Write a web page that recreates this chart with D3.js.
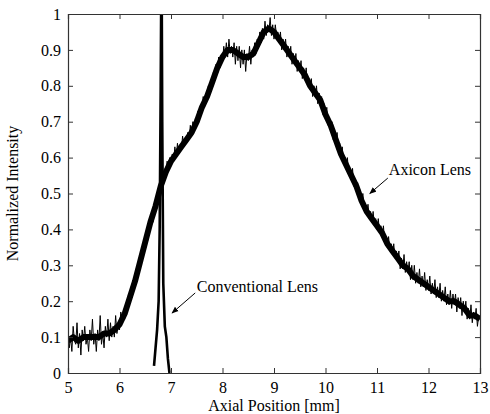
<!DOCTYPE html>
<html>
<head>
<meta charset="utf-8">
<script src="https://cdn.jsdelivr.net/npm/d3@7"></script>
<style>
  body { margin: 0; background: #fff; }
  text { font-family: "Liberation Serif", "Times New Roman", serif; fill: #000; }
</style>
</head>
<body>
<div id="chart"></div>
<script>
// axicon trace starts at 5 mm, one reading every 0.025 mm
var traceStart = 5, traceStep = 0.025;
// noisy axicon trace (4 readings per 0.1 mm)
var axiconTrace = [
  .12,.07,.10,.06, .13,.09,.08,.14, .07,.11,.05,.12, .09,.13,.08,.10, .06,.12,.09,.15,
  .08,.11,.06,.12, .09,.16,.08,.11, .07,.13,.10,.15, .09,.14,.10,.13, .10,.16,.11,.14,
  .12,.17,.14,.16, .15,.19,.17,.22, .20,.24,.21,.26, .24,.29,.27,.31, .30,.34,.32,.37,
  .35,.40,.37,.42, .41,.44,.42,.47, .45,.48,.47,.50, .51,.55,.53,.56, .55,.59,.56,.60,
  .58,.61,.59,.63, .60,.64,.61,.63, .62,.66,.63,.64, .64,.67,.65,.69, .66,.70,.68,.71,
  .69,.73,.71,.74, .73,.77,.74,.77, .76,.80,.78,.81, .80,.84,.82,.86, .84,.88,.85,.88,
  .87,.91,.88,.92, .88,.93,.89,.91, .88,.92,.86,.91, .87,.91,.85,.90, .86,.90,.84,.89,
  .87,.91,.86,.90, .88,.92,.89,.93, .91,.95,.92,.96, .93,.98,.94,.97, .95,.99,.94,.97,
  .93,.97,.94,.95, .92,.95,.90,.93, .90,.93,.88,.91, .88,.91,.86,.89, .86,.89,.84,.87,
  .84,.87,.82,.85, .82,.85,.80,.82, .79,.82,.77,.80, .77,.80,.75,.78, .75,.77,.72,.75,
  .71,.74,.69,.71, .68,.70,.65,.68, .64,.67,.62,.64, .60,.63,.59,.60, .57,.60,.56,.57,
  .54,.57,.52,.54, .51,.53,.49,.51, .47,.50,.46,.47, .44,.47,.43,.45, .42,.45,.41,.43,
  .40,.43,.39,.41, .38,.41,.36,.38, .35,.38,.34,.36, .33,.36,.32,.34, .31,.34,.29,.32,
  .29,.33,.28,.31, .28,.31,.26,.30, .26,.30,.25,.28, .25,.29,.24,.27, .24,.28,.23,.26,
  .23,.27,.22,.25, .22,.26,.21,.24, .21,.25,.20,.23, .20,.24,.19,.22, .19,.23,.18,.22,
  .19,.22,.17,.21, .18,.21,.16,.20, .17,.20,.15,.18, .15,.19,.14,.17, .15,.18,.13,.16,
  .15
];
// mean level of the axicon curve, one value every 0.1 mm
var meanStep = 0.1;
var axiconMean = [
  0.09,0.10,0.09,0.10,0.10,0.10,0.10,0.11,0.11,0.12,
  0.135,0.165,0.21,0.255,0.31,0.365,0.42,0.465,0.52,0.56,
  0.59,0.61,0.63,0.65,0.67,0.70,0.74,0.77,0.81,0.85,
  0.88,0.90,0.90,0.89,0.88,0.88,0.89,0.92,0.95,0.96,
  0.95,0.93,0.91,0.89,0.87,0.85,0.83,0.80,0.78,0.76,
  0.72,0.69,0.65,0.61,0.58,0.55,0.52,0.48,0.45,0.43,
  0.41,0.39,0.36,0.34,0.32,0.30,0.29,0.27,0.26,0.25,
  0.24,0.23,0.22,0.21,0.20,0.20,0.19,0.18,0.16,0.16,
  0.15
];
// conventional lens focus
var convX = [6.67,6.70,6.73,6.76,6.78,6.80,6.81,6.82,6.83,6.85,6.88,6.91,6.94,6.97];
var convY = [0.02,0.07,0.12,0.20,0.40,0.80,1.05,1.05,0.70,0.25,0.13,0.10,0.04,0.00];

var xTicks = [5,6,7,8,9,10,11,12,13];
var yTicks = [0,0.1,0.2,0.3,0.4,0.5,0.6,0.7,0.8,0.9,1];

var margin = {top: 14, right: 10, bottom: 41, left: 68},
  width = 490 - margin.left - margin.right,
  height = 414 - margin.top - margin.bottom;

var svg = d3.select("#chart")
.append("svg")
  .attr("width", 490)
  .attr("height", 414)
.append("g")
  .attr("transform", "translate(" + margin.left + "," + margin.top + ")");

var x = d3.scaleLinear().domain([5, 13]).range([0, width]);
var y = d3.scaleLinear().domain([0, 1]).range([height, 0]);

svg.append("clipPath").attr("id", "plotClip")
  .append("rect").attr("width", width).attr("height", height);

var plot = svg.append("g").attr("clip-path", "url(#plotClip)");

var line = d3.line().x(function(d) { return x(d[0]); }).y(function(d) { return y(d[1]); });

// thick core of the axicon curve
plot.append("path")
  .datum(axiconMean.map(function(v, i) { return [traceStart + i * meanStep, v]; }))
  .attr("d", line)
  .style("fill", "none").style("stroke", "#000").style("stroke-width", 6)
  .style("stroke-linejoin", "round");

// the noise around it
plot.append("path")
  .datum(axiconTrace.map(function(v, i) { return [traceStart + i * traceStep, v]; }))
  .attr("d", line)
  .style("fill", "none").style("stroke", "#000").style("stroke-width", 1);

// conventional lens
plot.append("path")
  .datum(convX.map(function(v, i) { return [v, convY[i]]; }))
  .attr("d", line)
  .style("fill", "none").style("stroke", "#000").style("stroke-width", 2.6);

// axes: ticks point inward, box on all sides
var tickLen = 5;
svg.append("g")
  .attr("transform", "translate(0," + height + ")")
  .call(d3.axisBottom(x).tickValues(xTicks).tickSize(-tickLen).tickPadding(9).tickFormat(d3.format("d")))
  .call(function(g) { g.selectAll("text").style("font-size", "16px"); });
svg.append("g")
  .call(d3.axisTop(x).tickValues(xTicks).tickSize(-tickLen).tickFormat(""));
svg.append("g")
  .call(d3.axisLeft(y).tickValues(yTicks).tickSize(-tickLen).tickPadding(7).tickFormat(function(d) { return d === 0 || d === 1 ? d3.format("d")(d) : d3.format(".1f")(d); }))
  .call(function(g) { g.selectAll("text").style("font-size", "16px"); });
svg.append("g")
  .attr("transform", "translate(" + width + ",0)")
  .call(d3.axisRight(y).tickValues(yTicks).tickSize(-tickLen).tickFormat(""));

svg.selectAll(".domain").style("stroke", "#333").style("stroke-width", 1.2);
svg.selectAll(".tick line").style("stroke", "#333");

// axis titles
svg.append("text")
  .attr("x", width / 2).attr("y", height + 38)
  .style("text-anchor", "middle").style("font-size", "16px")
  .text("Axial Position [mm]");
svg.append("text")
  .attr("transform", "translate(-50," + (height / 2) + ") rotate(-90)")
  .style("text-anchor", "middle").style("font-size", "16px")
  .text("Normalized Intensity");

// annotations with arrows
var notes = [
  {label: "Axicon Lens", tx: 11.23, ty: 0.552, ax: 11.21, ay: 0.543, bx: 10.86, by: 0.50},
  {label: "Conventional Lens", tx: 7.50, ty: 0.226, ax: 7.47, ay: 0.223, bx: 7.02, by: 0.167}
];
svg.append("defs").append("marker")
  .attr("id", "arrow").attr("viewBox", "0 0 10 10").attr("refX", 9).attr("refY", 5)
  .attr("markerWidth", 7).attr("markerHeight", 7).attr("orient", "auto")
  .append("path").attr("d", "M0,1L10,5L0,9Z").style("fill", "#000");

notes.forEach(function(n) {
  svg.append("line")
    .attr("x1", x(n.ax)).attr("y1", y(n.ay)).attr("x2", x(n.bx)).attr("y2", y(n.by))
    .style("stroke", "#000").style("stroke-width", 1)
    .attr("marker-end", "url(#arrow)");
  svg.append("text")
    .attr("x", x(n.tx)).attr("y", y(n.ty))
    .style("font-size", "16px")
    .text(n.label);
});
</script>
</body>
</html>
